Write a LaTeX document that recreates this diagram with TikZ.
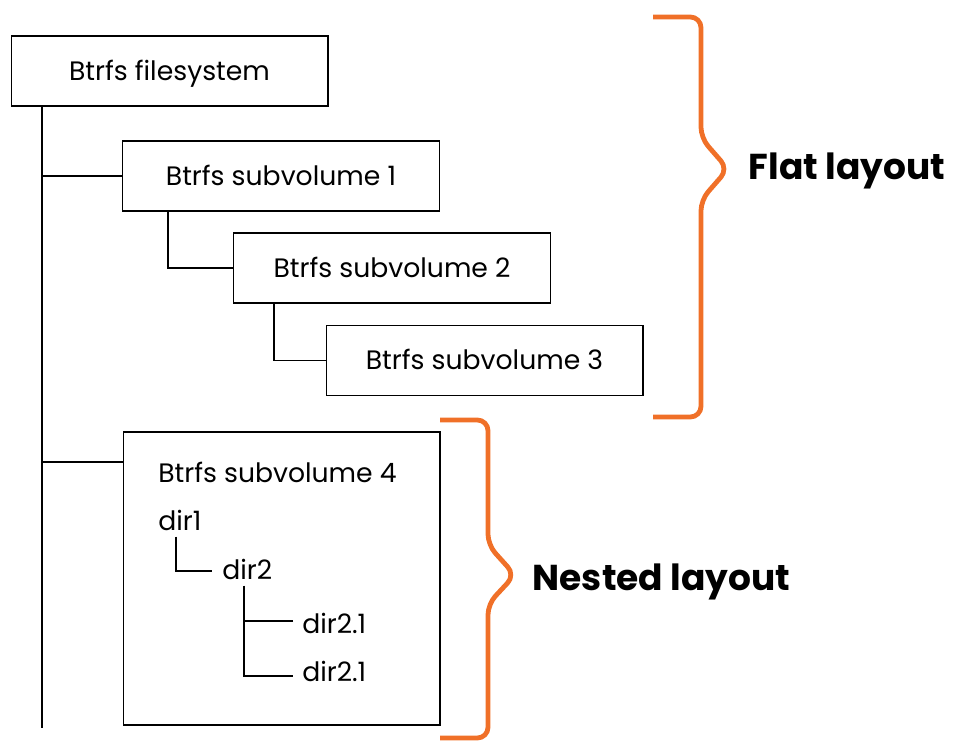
\documentclass[tikz,border=0pt]{standalone}
\usepackage{fontspec}
\setmainfont{Poppins}
\usetikzlibrary{calc,positioning}
\definecolor{brorange}{RGB}{240,112,40}

\begin{document}
\begin{tikzpicture}[x=0.75pt,y=-0.75pt,font=\fontsize{20}{24}\selectfont,
    volbox/.style={draw,line width=1pt,minimum width=237.5pt,minimum height=52.5pt,inner sep=0pt,text height=14pt,text depth=0pt},
    link/.style={line width=1.3pt},
    brace/.style={draw=brorange,line width=3.6pt,rounded corners=8pt},
    lbl/.style={font=\fontsize{27}{32}\selectfont\bfseries,anchor=west},
    dirnode/.style={anchor=west,inner sep=0pt}]
    \useasboundingbox (0,0) rectangle (961,756);
    \node[volbox] (fs) at (169.5,71) {Btrfs filesystem};
    \node[volbox] (sv1) at (281,176) {Btrfs subvolume 1};
    \node[volbox] (sv2) at (392,268) {Btrfs subvolume 2};
    \node[volbox] (sv3) at (484.5,360.5) {Btrfs subvolume 3};
    \node[volbox,minimum height=219.75pt] (sv4) at (281.5,578.5) {};
    \node[dirnode] (sv4t) at (158,472) {Btrfs subvolume 4};
    \node[dirnode] (dir1) at (158,520) {dir1};
    \node[dirnode] (dir2) at (222,569) {dir2};
    \node[dirnode] (dir21) at (302,623) {dir2.1};
    \node[dirnode] (dir22) at (302,671) {dir2.1};
    \coordinate (trunk) at (42,728);
    \draw[link] (fs.south -| trunk) -- (trunk);
    \draw[link] (sv1.west) -- (sv1.west -| trunk);
    \draw[link] (sv4.west |- sv4t) ++(0,-10) coordinate (j4) -- (j4 -| trunk);
    \draw[link] ($(sv1.south west)+(46,0)$) |- (sv2.west);
    \draw[link] ($(sv2.south west)+(41,0)$) |- (sv3.west);
    \draw[link] ($(dir1.south west)+(18,6)$) |- ($(dir2.west)+(-10,2)$);
    \draw[link] ($(dir2.south west)+(22,6)$) |- ($(dir22.west)+(-9,5)$);
    \draw[link] ($(dir21.west)+(-9,-2)$) -| ($(dir2.south west)+(22,6)$);
    \draw[brace] (653,17) -- (701,17) -- (701,138) -- (728,169) -- (701,200) -- (701,417) -- (653,417);
    \draw[brace] (440,420) -- (488,420) -- (488,545) -- (515,575) -- (488,604) -- (488,738) -- (440,738);
    \node[lbl] (flat) at (744,171) {Flat layout};
    \node[lbl] (nested) at (528,582) {Nested layout};
\end{tikzpicture}
\end{document}
